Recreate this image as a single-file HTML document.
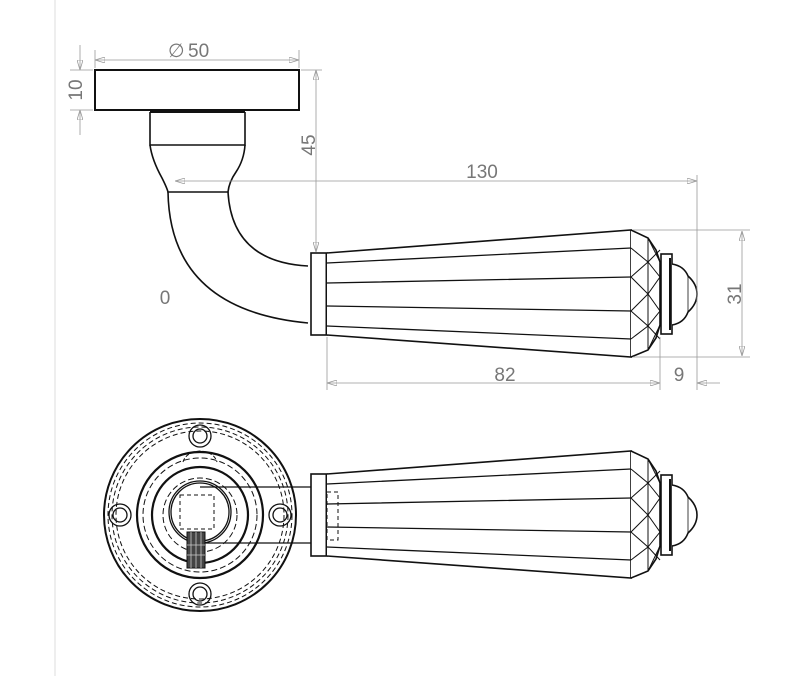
<!DOCTYPE html>
<html><head><meta charset="utf-8"><style>
html,body{margin:0;padding:0;background:#fff}
svg{display:block}
</style></head><body>
<svg width="800" height="676" viewBox="0 0 800 676" xmlns="http://www.w3.org/2000/svg">
<defs>
<marker id="ar" viewBox="0 0 10 6" refX="10" refY="3" markerWidth="10" markerHeight="6" orient="auto-start-reverse" markerUnits="userSpaceOnUse"><path d="M0,0 L10,3 L0,6 Z" fill="none" stroke="#999" stroke-width="0.8"/></marker>
<g id="handle" fill="none" stroke="#111" stroke-width="1.6">
<rect x="311" y="253" width="16" height="82" fill="#fff"/>
<line x1="327" y1="253" x2="327" y2="335" stroke-width="3"/>
<path d="M327,253 L631,230 L631,357 L327,335" fill="#fff"/>
<path d="M327,263 L631,248 M327,283 L631,277 M327,306 L631,311 M327,326 L631,339" stroke-width="1.3"/>
<path d="M631,230 L648,238 L656,250 L660,262 L660,325 L656,338 L648,350 L631,357" fill="#fff"/>
<path d="M648,238 L648,350 M631,248 L648,262 L631,277 L648,294 L631,311 L648,326 L631,339 M648,262 L660,250 M648,262 L660,277 L648,294 L660,311 L648,326 L660,339 M648,238 L660,262 M648,350 L660,325" stroke-width="1"/>
<rect x="661" y="254" width="11" height="80" fill="#fff"/>
<line x1="670" y1="258" x2="670" y2="330" stroke-width="2"/>
<path d="M672,264 Q684,266 688,276 Q697,284 697,294 Q697,304 688,312 Q684,323 672,325" fill="#fff"/>
<path d="M688,276 L688,312" stroke-width="0.8"/>
</g>
</defs>
<line x1="55" y1="0" x2="55" y2="676" stroke="#ddd" stroke-width="1"/>
<g fill="none" stroke="#111" stroke-width="1.6">
<rect x="95" y="70" width="204" height="40" fill="#fff" stroke-width="2"/>
<line x1="150" y1="112" x2="245" y2="112" stroke-width="2"/>
<path d="M150,112 L150,145 L245,145 L245,112"/>
<path d="M150,145 Q152,160 162,178 Q167,188 168,192 L228,192 Q229,182 236,172 Q244,160 245,145"/>
<path d="M168,192 Q170,310 308,323"/>
<path d="M228,192 Q232,262 308,266"/>
</g>
<use href="#handle"/>
<use href="#handle" transform="translate(0,221)"/>
<g fill="none" stroke="#111" stroke-width="1.3">
<circle cx="200" cy="515" r="96" stroke-width="2"/>
<circle cx="200" cy="515" r="92" stroke-dasharray="5,3" stroke-width="1"/>
<circle cx="200" cy="515" r="88" stroke-dasharray="5,3" stroke-width="1"/>
<circle cx="200" cy="515" r="84" stroke-dasharray="5,3" stroke-width="1"/>
<circle cx="200" cy="436" r="11"/><circle cx="200" cy="436" r="7"/>
<circle cx="200" cy="594" r="11"/><circle cx="200" cy="594" r="7"/>
<circle cx="120" cy="515" r="11"/><circle cx="120" cy="515" r="7"/>
<circle cx="280" cy="515" r="11"/><circle cx="280" cy="515" r="7"/>
<path d="M183,462 Q186,452 200,451 Q214,452 217,462" stroke-width="1" stroke-dasharray="4,2"/>
<circle cx="200" cy="515" r="63" stroke-width="2.2"/>
<circle cx="200" cy="515" r="57" stroke-dasharray="6,3" stroke-width="1"/>
<circle cx="200" cy="515" r="48" stroke-width="2.2"/>
<circle cx="200" cy="515" r="37" stroke-dasharray="6,3" stroke-width="1"/>
<circle cx="200" cy="512" r="31"/>
<circle cx="200" cy="512" r="29"/>
<rect x="180" y="495" width="34" height="34" stroke-dasharray="4,3" stroke-width="1"/>
<path d="M200,487 L311,487 M200,543 L311,543"/>
<rect x="187" y="532" width="18" height="36" fill="#444" stroke-width="1"/>
<path d="M191,532 L191,568 M196,532 L196,568 M201,532 L201,568 M187,545 L205,545 M187,555 L205,555" stroke="#ccc" stroke-width="0.8"/>
<rect x="327" y="492" width="11" height="48" stroke-dasharray="4,3" stroke-width="1"/>
</g>
<g stroke="#999" stroke-width="0.8" fill="none">
<line x1="95" y1="50" x2="95" y2="68"/><line x1="299" y1="50" x2="299" y2="68"/>
<line x1="95" y1="60" x2="299" y2="60" marker-start="url(#ar)" marker-end="url(#ar)"/>
<line x1="70" y1="70" x2="93" y2="70"/><line x1="70" y1="110" x2="93" y2="110"/>
<line x1="80" y1="45" x2="80" y2="70" marker-end="url(#ar)"/><line x1="80" y1="135" x2="80" y2="110" marker-end="url(#ar)"/>
<line x1="301" y1="70" x2="322" y2="70"/>
<line x1="316" y1="70" x2="316" y2="252" marker-start="url(#ar)" marker-end="url(#ar)"/>
<line x1="175" y1="181" x2="697" y2="181" marker-start="url(#ar)" marker-end="url(#ar)"/>
<line x1="697" y1="175" x2="697" y2="390"/>
<line x1="633" y1="230" x2="750" y2="230"/><line x1="633" y1="357" x2="750" y2="357"/>
<line x1="742" y1="231" x2="742" y2="356" marker-start="url(#ar)" marker-end="url(#ar)"/>
<line x1="327" y1="337" x2="327" y2="390"/><line x1="660" y1="337" x2="660" y2="390"/>
<line x1="327" y1="383" x2="660" y2="383" marker-start="url(#ar)" marker-end="url(#ar)"/>
<line x1="720" y1="383" x2="697" y2="383" marker-end="url(#ar)"/>
</g>
<g font-family="Liberation Sans, sans-serif" font-size="19" fill="#777">
<text x="168" y="57">∅</text><text x="188" y="57">50</text>
<text x="75" y="90" text-anchor="middle" transform="rotate(-90 75 90)" dy="7">10</text>
<text x="308" y="145" text-anchor="middle" transform="rotate(-90 308 145)" dy="7">45</text>
<text x="482" y="178" text-anchor="middle">130</text>
<text x="734" y="294" text-anchor="middle" transform="rotate(-90 734 294)" dy="7">31</text>
<text x="505" y="381" text-anchor="middle">82</text>
<text x="679" y="381" text-anchor="middle">9</text>
<text x="165" y="304" text-anchor="middle">0</text>
</g>
</svg>
</body></html>
